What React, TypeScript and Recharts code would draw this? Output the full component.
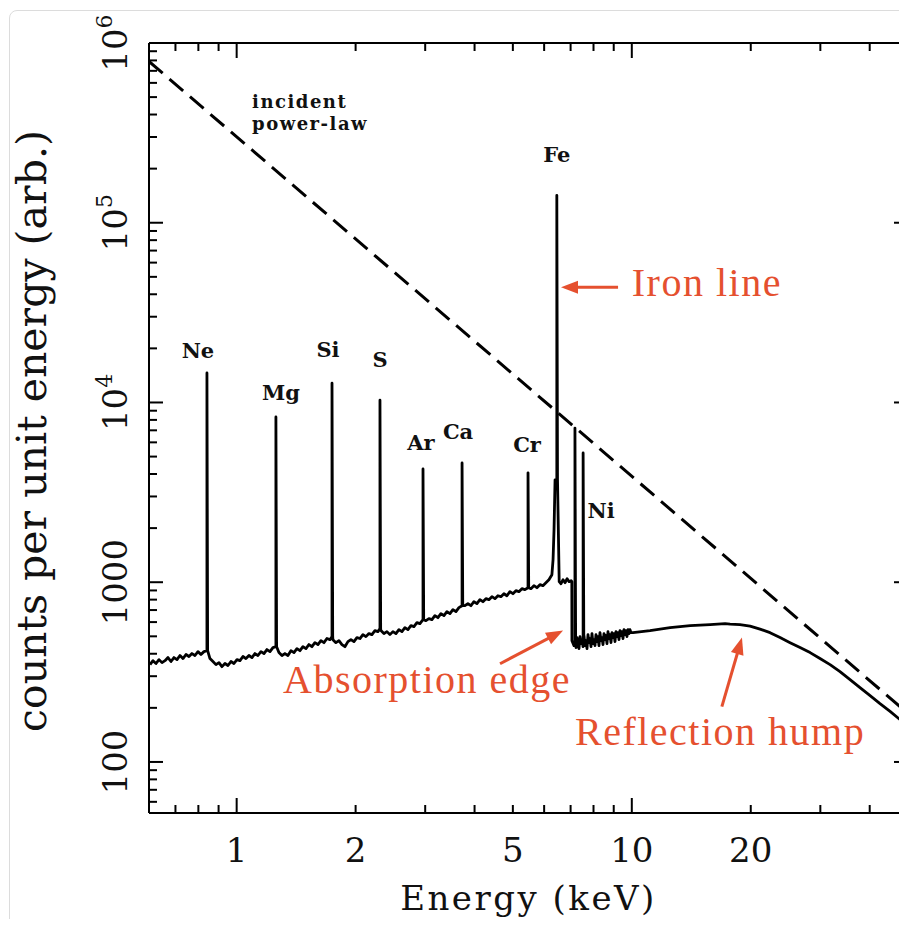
import { LineChart, Line, XAxis, YAxis, ReferenceLine, ReferenceDot } from "recharts";

// reflected spectrum, [energy keV, counts per unit energy]
const softBand: [number, number][] = [
  [0.6035, 348], [0.6141, 366], [0.625, 353], [0.636, 371], [0.6472, 357], [0.6586, 366],
  [0.6702, 381], [0.682, 362], [0.694, 381], [0.7063, 371], [0.7187, 391], [0.7314, 376],
  [0.7443, 396], [0.7574, 386], [0.7707, 401], [0.7843, 391], [0.7981, 411], [0.8122, 396],
  [0.8265, 411], [0.8559, 376], [0.871, 362], [0.8864, 348], [0.902, 357], [0.9179, 339],
  [0.9341, 353], [0.9505, 344], [0.9673, 362], [0.9843, 353], [1.0017, 371], [1.0193, 366],
  [1.0373, 386], [1.0556, 376], [1.0742, 391], [1.0931, 381], [1.1124, 401], [1.132, 391],
  [1.152, 411], [1.1723, 401], [1.1929, 422], [1.214, 411], [1.2354, 433], [1.2793, 406],
  [1.3019, 391], [1.3248, 401], [1.3482, 391], [1.372, 416], [1.3962, 406], [1.4208, 427],
  [1.4458, 416], [1.4713, 438], [1.4973, 427], [1.5237, 450], [1.5505, 438], [1.5779, 461],
  [1.6057, 450], [1.634, 473], [1.6628, 461], [1.6921, 486], [1.722, 479], [1.7523, 479],
  [1.7832, 461], [1.8147, 473], [1.8467, 450], [1.8792, 438], [1.9124, 467], [1.9461, 479],
  [1.9804, 467], [2.0153, 492], [2.0509, 486], [2.087, 511], [2.1238, 498], [2.1613, 518],
  [2.1994, 511], [2.2382, 538], [2.2776, 531], [2.3178, 538], [2.3587, 518], [2.4003, 531],
  [2.4426, 511], [2.4857, 531], [2.5295, 518], [2.5741, 545], [2.6195, 531], [2.6657, 559],
  [2.7127, 545], [2.7605, 574], [2.8092, 566], [2.8588, 596], [2.9092, 588], [3.0127, 611],
  [3.0658, 627], [3.1199, 619], [3.1749, 652], [3.2309, 635], [3.2879, 669], [3.3459, 652],
  [3.4049, 686], [3.4649, 669], [3.526, 704], [3.5882, 686], [3.6515, 722], [3.7814, 740],
  [3.8481, 760], [3.9159, 740], [3.985, 779], [4.0553, 760], [4.1268, 800], [4.1996, 779],
  [4.2736, 810], [4.349, 800], [4.4257, 831], [4.5037, 810], [4.5831, 841], [4.664, 831],
  [4.7462, 863], [4.8299, 841], [4.9151, 886], [5.0018, 863], [5.09, 897], [5.1797, 886],
  [5.2711, 921], [5.364, 909], [5.5549, 921], [5.6528, 957], [5.7525, 932], [5.854, 969],
  [5.9572, 957], [6.0622, 994], [6.1691, 1033], [6.2779, 1101], [6.32, 1334], [6.356, 1957],
  [6.394, 3710],
];

// iron edge and the noisy stretch up to 10 keV
const ironEdge: [number, number][] = [
  [6.55, 1007], [6.62, 981], [6.7, 1033], [6.78, 994], [6.86, 1046], [6.94, 1007],
  [7.02, 1020], [7.05, 1007], [7.055, 473],
  [7.14, 444], [7.182, 479], [7.224, 433], [7.266, 492], [7.308, 450], [7.351, 427],
  [7.394, 498], [7.437, 455], [7.481, 479], [7.524, 438], [7.568, 505], [7.612, 444],
  [7.657, 473], [7.702, 427], [7.747, 511], [7.792, 461], [7.837, 486], [7.883, 438],
  [7.929, 518], [7.975, 455], [8.022, 479], [8.069, 444], [8.116, 511], [8.163, 467],
  [8.211, 498], [8.259, 444], [8.307, 524], [8.356, 473], [8.405, 492], [8.454, 450],
  [8.503, 518], [8.553, 479], [8.603, 505], [8.653, 455], [8.704, 531], [8.755, 486],
  [8.806, 511], [8.857, 461], [8.909, 524], [8.961, 492], [9.013, 518], [9.066, 467],
  [9.119, 531], [9.172, 498], [9.226, 524], [9.28, 479], [9.334, 538], [9.389, 505],
  [9.443, 531], [9.499, 486], [9.554, 545], [9.61, 511], [9.666, 538], [9.722, 498],
  [9.779, 545], [9.836, 518], [9.894, 545], [9.952, 524],
];

const hardBand: [number, number][] = [
  [10.07, 524], [11.12, 538], [12.5, 559], [14.05, 574], [15.78, 581], [17.22, 588],
  [17.73, 584], [18.78, 581], [19.92, 570], [21.11, 548], [22.38, 524], [23.72, 492],
  [25.15, 461], [26.65, 433], [28.26, 406], [29.94, 376], [31.75, 348], [33.64, 318],
  [35.67, 287], [37.8, 259], [40.09, 234], [42.47, 211], [45.04, 191], [47.72, 172],
  [50, 160],
];

// fluorescence lines
const lineLabels = ["Ne", "Mg", "Si", "S", "Ar", "Ca", "Cr", "Fe", "", "Ni"];
const lineEnergy = [0.841, 1.257, 1.743, 2.305, 2.962, 3.719, 5.462, 6.46, 7.18, 7.53];
const lineBase = [416, 438, 498, 552, 619, 740, 932, 3710, 461, 467];
const linePeak = [14600, 8300, 12800, 10300, 4270, 4610, 4060, 142000, 7200, 5240];

// incident power law
const incident: [number, number][] = [[0.6, 789000], [50, 186]];

const xTicks = [0.7, 0.8, 0.9, 1, 2, 3, 4, 5, 6, 7, 8, 9, 10, 20, 30, 40];
const xTickLabels = [1, 2, 5, 10, 20];
const yTickLabels = [100, 1000, 1e4, 1e5, 1e6];
const yTicks: number[] = [];
for (const d of [10, 100, 1000, 1e4, 1e5]) {
  for (let m = 1; m < 10; m++) if (d * m >= 60) yTicks.push(d * m);
}
yTicks.push(1e6);

const W = 910;
const H = 911;
const M = { top: 35, right: 10, bottom: 16, left: 41 };
const PLOT_TOP = M.top;
const PLOT_RIGHT = W - M.right;
const RED = "#e5502f";
const SERIF = "'DejaVu Serif', serif";

const labelOffset: Record<string, [number, number]> = {
  Ne: [-9, -15], Mg: [5, -17], Si: [-4, -26], S: [0, -33], Ar: [-2, -19],
  Ca: [-4, -24], Cr: [-1, -21], Fe: [0, -33], Ni: [18, 65],
};

// each line rises at its energy and falls back a hair to the right,
// which gives the spike a slightly heavier foot
function withLines(cont: [number, number][]) {
  const out: { e: number; c: number }[] = [];
  let k = 0;
  for (const [e, c] of cont) {
    while (k < lineEnergy.length && lineEnergy[k] <= e) {
      out.push({ e: lineEnergy[k], c: lineBase[k] });
      out.push({ e: lineEnergy[k], c: linePeak[k] });
      out.push({ e: lineEnergy[k] * 1.004, c: lineBase[k] });
      k++;
    }
    out.push({ e, c });
  }
  return out;
}

const reflected = withLines([...softBand, ...ironEdge, ...hardBand]);
const powerLaw = incident.map(([e, c]) => ({ e, c }));

const isDecade = (v: number) => Math.abs(Math.log10(v) - Math.round(Math.log10(v))) < 1e-6;

const XTick = (p: any) => {
  const { x, y, payload } = p;
  const v = payload.value;
  const len = isDecade(v) ? 15 : 8;
  return (
    <g>
      <line x1={x} y1={y} x2={x} y2={y - len} stroke="#000" strokeWidth={2} />
      <line x1={x} y1={PLOT_TOP} x2={x} y2={PLOT_TOP + len} stroke="#000" strokeWidth={2} />
      {xTickLabels.includes(v) && (
        <text x={x} y={y + 49} textAnchor="middle" fontFamily={SERIF} fontSize={34} fill="#111">
          {v}
        </text>
      )}
    </g>
  );
};

const YTick = (p: any) => {
  const { x, y, payload } = p;
  const v = payload.value;
  const len = isDecade(v) ? 14 : 8;
  const tx = x - 22;
  const exp = Math.round(Math.log10(v));
  return (
    <g>
      <line x1={x} y1={y} x2={x + len} y2={y} stroke="#000" strokeWidth={2} />
      <line x1={PLOT_RIGHT} y1={y} x2={PLOT_RIGHT - len} y2={y} stroke="#000" strokeWidth={2} />
      {yTickLabels.includes(v) && (
        <text
          x={tx}
          y={y}
          transform={`rotate(-90 ${tx} ${y})`}
          textAnchor="middle"
          fontFamily={SERIF}
          fontSize={34}
          fill="#111"
        >
          {exp < 4 ? (
            String(v)
          ) : (
            <>
              <tspan>10</tspan>
              <tspan dy={-15} fontSize={22}>{exp}</tspan>
            </>
          )}
        </text>
      )}
    </g>
  );
};

const Arrow = (p: any) => {
  const { x1, y1, x2, y2 } = p;
  const a = Math.atan2(y2 - y1, x2 - x1);
  const L = 17;
  const hw = 6.5;
  const bx = x2 - L * Math.cos(a);
  const by = y2 - L * Math.sin(a);
  const nx = -Math.sin(a) * hw;
  const ny = Math.cos(a) * hw;
  return (
    <g>
      <line x1={x1} y1={y1} x2={bx + 2 * Math.cos(a)} y2={by + 2 * Math.sin(a)} stroke={RED} strokeWidth={3} />
      <polygon points={`${x2},${y2} ${bx + nx},${by + ny} ${bx - nx},${by - ny}`} fill={RED} />
    </g>
  );
};

const redText = (text: string) => (p: any) => (
  <text x={p.cx} y={p.cy} fontFamily="'Liberation Serif', serif" fontSize={40} letterSpacing={1.5} fill={RED}>
    {text}
  </text>
);

const elementText = (text: string) => (p: any) => {
  const [dx, dy] = labelOffset[text] || [0, 0];
  return (
    <text
      x={p.cx + dx}
      y={p.cy + dy}
      textAnchor="middle"
      fontFamily={SERIF}
      fontWeight="bold"
      fontSize={21}
      fill="#111"
    >
      {text}
    </text>
  );
};

const boldNote = (text: string) => (p: any) => (
  <text x={p.cx} y={p.cy} fontFamily={SERIF} fontWeight="bold" fontSize={18} letterSpacing={1.5} fill="#111">
    {text}
  </text>
);

export default function App() {
  return (
    <div style={{ position: "relative", width: 899, height: H, overflow: "hidden", fontFamily: SERIF }}>
      <div
        style={{
          position: "absolute",
          left: 1,
          top: 2,
          width: 960,
          height: 980,
          border: "1px solid #dcdcdc",
          borderRadius: 8,
        }}
      />
      <LineChart width={W} height={H} margin={M} style={{ position: "absolute", left: 0, top: 0 }}>
        <XAxis
          dataKey="e"
          type="number"
          scale="log"
          domain={[0.6, 50]}
          allowDataOverflow
          ticks={xTicks}
          interval={0}
          tick={XTick}
          tickLine={false}
          tickSize={0}
          tickMargin={0}
          height={90}
          axisLine={{ stroke: "#000", strokeWidth: 2 }}
          label={{
            content: ({ viewBox }: any) => (
              <text
                x={viewBox.x + viewBox.width / 2}
                y={viewBox.y + 97}
                textAnchor="middle"
                fontFamily={SERIF}
                fontSize={34}
                letterSpacing={2.5}
                fill="#111"
              >
                Energy (keV)
              </text>
            ),
          }}
        />
        <YAxis
          dataKey="c"
          type="number"
          scale="log"
          domain={[52, 1e6]}
          allowDataOverflow
          ticks={yTicks}
          interval={0}
          tick={YTick}
          tickLine={false}
          tickSize={0}
          tickMargin={0}
          width={100}
          axisLine={{ stroke: "#000", strokeWidth: 2 }}
          label={{
            content: () => (
              <text
                x={38}
                y={423}
                transform="rotate(-90 38 423)"
                textAnchor="middle"
                fontFamily={SERIF}
                fontSize={41}
                fill="#111"
              >
                counts per unit energy (arb.)
              </text>
            ),
          }}
        />
        <ReferenceLine y={1e6} stroke="#000" strokeWidth={2} />
        <ReferenceLine x={50} stroke="#000" strokeWidth={2} />

        <Line
          data={powerLaw}
          dataKey="c"
          type="linear"
          stroke="#000"
          strokeWidth={3}
          strokeDasharray="18 9"
          dot={false}
          isAnimationActive={false}
        />
        <Line
          data={reflected}
          dataKey="c"
          type="linear"
          stroke="#000"
          strokeWidth={2.8}
          strokeLinejoin="round"
          dot={false}
          isAnimationActive={false}
        />

        {lineLabels.map((name, i) =>
          name ? (
            <ReferenceDot key={name} x={lineEnergy[i]} y={linePeak[i]} r={0} shape={elementText(name)} />
          ) : null
        )}
        <ReferenceDot x={1.094} y={433000} r={0} shape={boldNote("incident")} />
        <ReferenceDot x={1.094} y={328000} r={0} shape={boldNote("power-law")} />

        <ReferenceLine segment={[{ x: 9.23, y: 43800 }, { x: 6.62, y: 43800 }]} shape={Arrow} />
        <ReferenceLine segment={[{ x: 4.64, y: 352 }, { x: 6.7, y: 538 }]} shape={Arrow} />
        <ReferenceLine segment={[{ x: 16.9, y: 203 }, { x: 19.0, y: 492 }]} shape={Arrow} />

        <ReferenceDot x={10.0} y={39050} r={0} shape={redText("Iron line")} />
        <ReferenceDot x={1.31} y={243} r={0} shape={redText("Absorption edge")} />
        <ReferenceDot x={7.18} y={125} r={0} shape={redText("Reflection hump")} />
      </LineChart>
    </div>
  );
}
